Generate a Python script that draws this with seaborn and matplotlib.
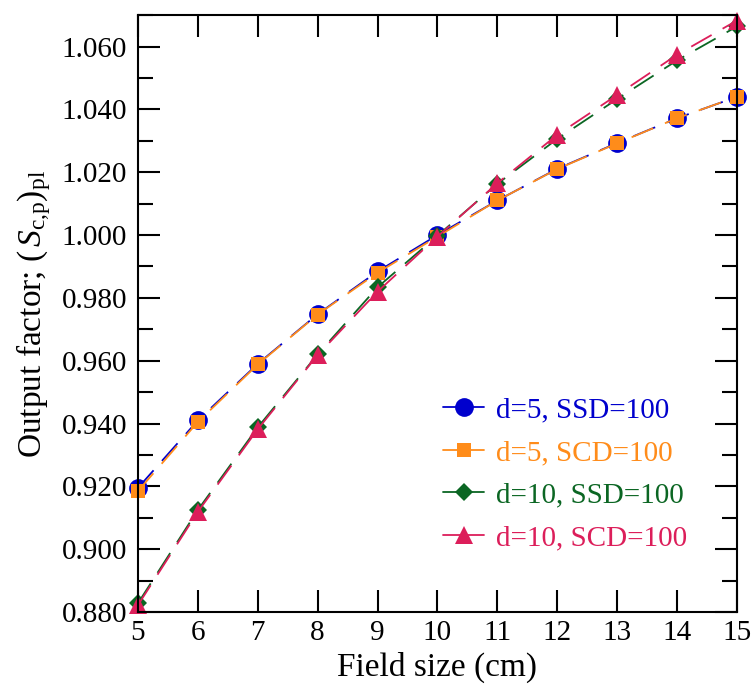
import matplotlib
matplotlib.use("Agg")
import matplotlib.pyplot as plt
from matplotlib.ticker import MultipleLocator, FormatStrFormatter
import seaborn as sns
import pandas as pd

# Field sizes (cm)
field_size = [5, 6, 7, 8, 9, 10, 11, 12, 13, 14, 15]

# Output factors for each depth / setup
d5_ssd = [0.9195, 0.9410, 0.9590, 0.9748, 0.9884, 1.0000, 1.0110, 1.0211, 1.0293, 1.0372, 1.0440]
d5_scd = [0.9185, 0.9405, 0.9588, 0.9747, 0.9880, 0.9995, 1.0110, 1.0210, 1.0292, 1.0372, 1.0440]
d10_ssd = [0.8828, 0.9125, 0.9388, 0.9620, 0.9834, 0.9998, 1.0163, 1.0306, 1.0433, 1.0556, 1.0664]
d10_scd = [0.8822, 0.9119, 0.9382, 0.9618, 0.9820, 0.9995, 1.0165, 1.0319, 1.0446, 1.0574, 1.0683]

labels = ["d=5, SSD=100", "d=5, SCD=100", "d=10, SSD=100", "d=10, SCD=100"]
colors = ["#0000CD", "#FF8C1A", "#0B6623", "#DC1E5A"]
markers = ["o", "s", "D", "^"]
msizes = [13.5, 10, 9, 13.5]

sns.set_style("ticks")
plt.rcParams["font.family"] = ["Liberation Serif", "DejaVu Serif"]
plt.rcParams["mathtext.fontset"] = "custom"
plt.rcParams["mathtext.rm"] = "Liberation Serif"
plt.rcParams["mathtext.it"] = "Liberation Serif:italic"

fig = plt.figure(figsize=(7.52, 6.86), dpi=100)
ax = fig.add_axes([0.1835, 0.1079, 0.7965, 0.8700])

series = [d5_ssd, d5_scd, d10_ssd, d10_scd]
for vals, lab, col, mk, ms in zip(series, labels, colors, markers, msizes):
    df = pd.DataFrame({"size": field_size, "of": vals})
    sns.lineplot(data=df, x="size", y="of", ax=ax, color=col, marker=mk,
                 markersize=ms, markeredgewidth=0, linewidth=1.3,
                 linestyle=(0, (13, 7)), label=lab, clip_on=False)

ax.set_xlim(5, 15)
ax.set_ylim(0.88, 1.07)
ax.xaxis.set_major_locator(MultipleLocator(1))
ax.yaxis.set_major_locator(MultipleLocator(0.02))
ax.yaxis.set_minor_locator(MultipleLocator(0.01))
ax.yaxis.set_major_formatter(FormatStrFormatter("%.3f"))

for sp in ax.spines.values():
    sp.set_visible(True)
    sp.set_linewidth(1.5)
    sp.set_color("black")

ax.tick_params(axis="both", which="both", direction="in", top=True, right=True,
               color="black", labelcolor="black", width=1.5, labelsize=21)
ax.tick_params(axis="both", which="major", length=16)
ax.tick_params(axis="y", which="minor", length=11)
ax.tick_params(axis="x", which="major", pad=6)
ax.tick_params(axis="y", which="major", pad=8)

ax.set_xlabel("Field size (cm)", fontsize=24, labelpad=4, color="black")
ax.set_ylabel(r"Output factor; $(\,\mathit{S}_{\mathrm{c{,}p}})_{\mathrm{pl}}$",
              fontsize=24, labelpad=6, color="black")

leg = ax.legend(loc="lower right", bbox_to_anchor=(0.946, 0.073), frameon=False,
                fontsize=21, handlelength=1.4, handletextpad=0.4,
                labelspacing=0.55, borderaxespad=0.2)
for txt, col in zip(leg.get_texts(), colors):
    txt.set_color(col)
for h in leg.legend_handles:
    h.set_linestyle("-")

fig.savefig("out.png", dpi=100)
